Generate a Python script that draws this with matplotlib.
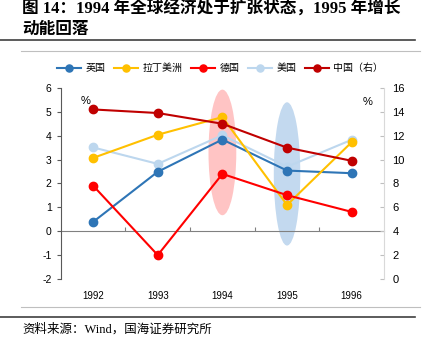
import numpy as np
import matplotlib.pyplot as plt
from matplotlib.patches import Ellipse

plt.rcParams['font.family'] = ['Liberation Sans', 'Noto Sans CJK SC']
plt.rcParams['axes.unicode_minus'] = False

# data
years = ['1992', '1993', '1994', '1995', '1996']
uk = [0.39, 2.49, 3.84, 2.54, 2.43]
latam = [3.07, 4.04, 4.78, 1.10, 3.73]
germany = [1.91, -1.0, 2.40, 1.51, 0.81]
usa = [3.51, 2.82, 4.02, 2.70, 3.83]
china = [14.2, 13.9, 13.0, 11.0, 9.9]  # right axis

x = np.arange(len(years))

fig = plt.figure(figsize=(4.22, 3.49), dpi=100)
ax = fig.add_axes([0.144, 0.2006, 0.766, 0.5474])
ax2 = ax.twinx()

# highlight ellipses
ax.add_patch(Ellipse((2, 3.3), 0.43, 5.26, color='#FFC4C4', lw=0, zorder=0))
ax.add_patch(Ellipse((3, 2.4), 0.41, 6.0, color='#C3D9EF', lw=0, zorder=0))

ms = 6
lw = 1.5
ax.plot(x, uk, color='#2E75B6', marker='o', ms=ms, lw=lw, label='英国', zorder=3)
ax.plot(x, latam, color='#FFC000', marker='o', ms=ms, lw=lw, label='拉丁美洲', zorder=3)
ax.plot(x, germany, color='#FF0000', marker='o', ms=ms, lw=lw, label='德国', zorder=3)
ax.plot(x, usa, color='#BDD7EE', marker='o', ms=ms, lw=lw, label='美国', zorder=2)
ax2.plot(x, china, color='#C00000', marker='o', ms=ms, lw=lw, label='中国（右）', zorder=3)

ax.set_xlim(-0.5, 4.5)
ax.set_ylim(-2, 6)
ax2.set_ylim(0, 16)
ax.set_yticks(np.arange(-2, 7, 1))
ax2.set_yticks(np.arange(0, 17, 2))
ax.set_xticks(x)
ax.set_xticklabels(years)
ax.tick_params(axis='x', length=0, pad=9, labelsize=7, colors='#000000')
ax.tick_params(axis='y', length=3, labelsize=7.5, color='#595959')
ax2.tick_params(axis='y', direction='in', length=3, labelsize=8, color='#BFBFBF', pad=6)

for s in ['top', 'bottom', 'right']:
    ax.spines[s].set_visible(False)
ax.spines['left'].set_color('#595959')
for s in ['top', 'bottom', 'left']:
    ax2.spines[s].set_visible(False)
ax2.spines['right'].set_color('#D9D9D9')

# zero line with category boundary ticks
zax = ax.secondary_xaxis(0.25)
zax.set_xticks(x[:-1] + 0.5)
zax.set_xticklabels([])
zax.tick_params(direction='in', length=3, color='#808080')
zax.spines['bottom'].set_color('#808080')

ax.text(0.06, 0.96, '%', transform=ax.transAxes, fontsize=8, va='top')
ax2.text(0.935, 0.955, '%', transform=ax2.transAxes, fontsize=8, va='top')

h1, l1 = ax.get_legend_handles_labels()
h2, l2 = ax2.get_legend_handles_labels()
fig.legend(h1 + h2, l1 + l2, loc='center', bbox_to_anchor=(0.522, 0.805), ncol=5,
           frameon=False, fontsize=7.2, handlelength=2.4, columnspacing=0.9,
           handletextpad=0.4, markerscale=0.85)

# title and source
serif = ['Liberation Serif', 'Noto Sans CJK SC']
fig.text(0.052, 0.975, '图 14：1994 年全球经济处于扩张状态，1995 年增长', fontsize=12,
         weight='bold', family=serif, va='center')
fig.text(0.052, 0.915, '动能回落', fontsize=12, weight='bold', family=serif, va='center')
fig.add_artist(plt.Line2D([0, 0.983], [0.884, 0.884], color='#404040', lw=1.2))
fig.add_artist(plt.Line2D([0.05, 0.995], [0.853, 0.853], color='#BFBFBF', lw=0.8))
fig.add_artist(plt.Line2D([0.05, 0.995], [0.121, 0.121], color='#BFBFBF', lw=0.8))
fig.add_artist(plt.Line2D([0, 0.983], [0.092, 0.092], color='#404040', lw=1.2))
fig.text(0.052, 0.055, '资料来源：Wind，国海证券研究所', fontsize=9, family=serif, va='center')

plt.savefig('out.png')
